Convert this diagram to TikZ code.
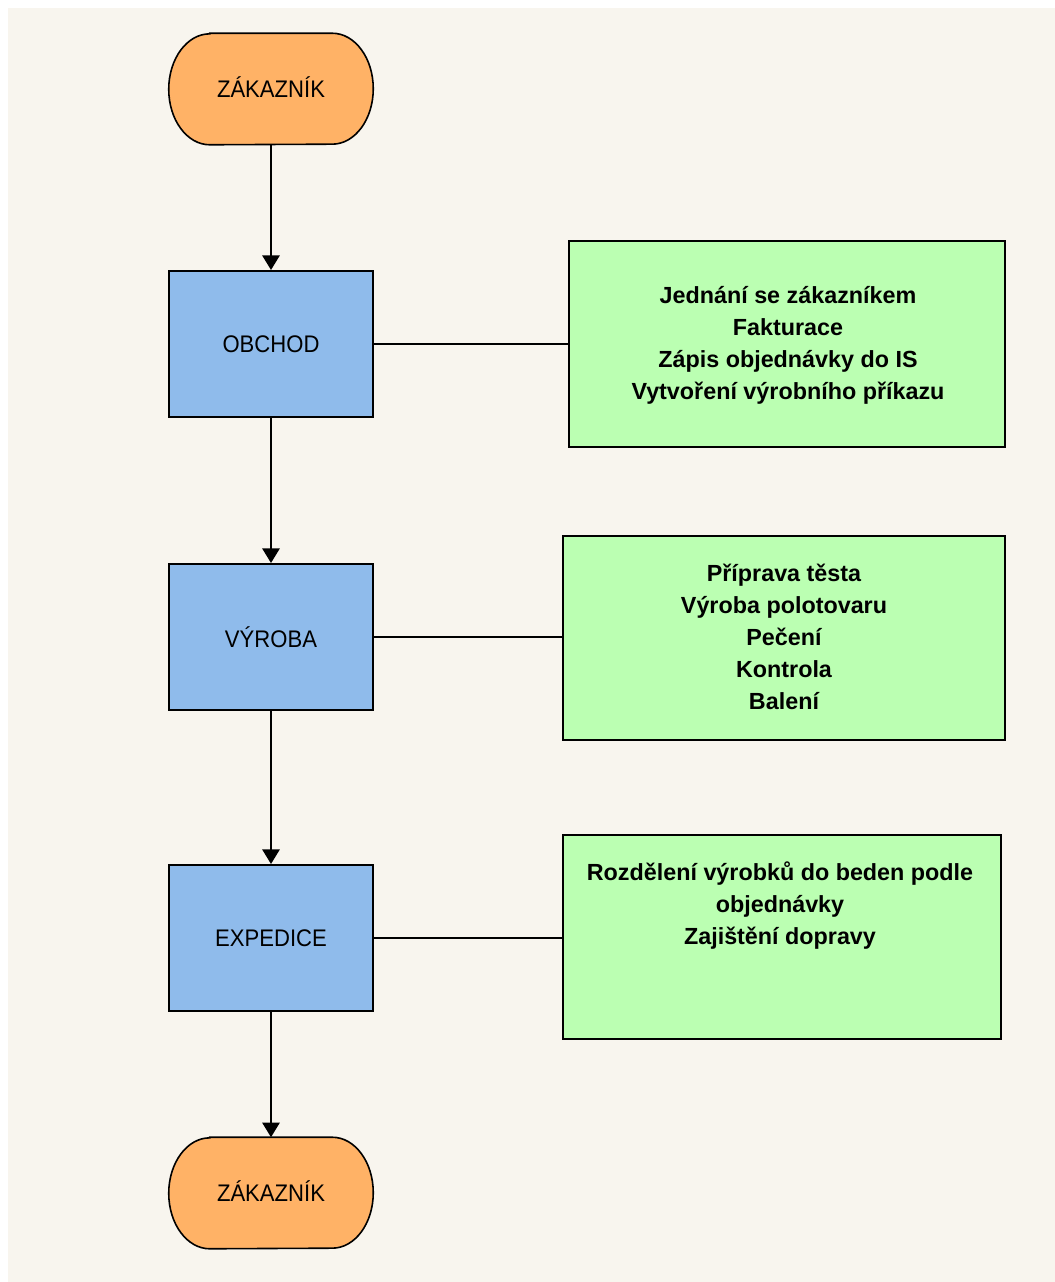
\documentclass[tikz,border=0pt]{standalone}
\usepackage{fontspec}
\setmainfont{Liberation Sans}
\newfontfamily\lblfont[FakeStretch=0.92]{Liberation Sans}
\usetikzlibrary{arrows.meta}
\definecolor{bgcream}{RGB}{248,245,238}
\definecolor{termfill}{RGB}{255,178,102}
\definecolor{procfill}{RGB}{143,187,235}
\definecolor{notefill}{RGB}{187,255,178}
\pgfdeclarelayer{back}
\pgfdeclarelayer{shapes}
\pgfsetlayers{back,shapes,main}
\tikzset{
  lbl/.style={font=\lblfont\fontsize{18pt}{21pt}\selectfont, text=black},
  termbox/.style={lbl, rectangle, minimum width=153pt, minimum height=83.25pt, inner sep=0pt, text height=13pt, text depth=0pt},
  procbox/.style={lbl, rectangle, draw=black, line width=1.5pt, fill=procfill, minimum width=153pt, minimum height=109.5pt, inner sep=0pt},
  notebox/.style={rectangle, draw=black, line width=1.2pt, fill=notefill, inner sep=0pt},
  notetext/.style={font=\bfseries\fontsize{17.5pt}{24pt}\selectfont, align=center, text=black, inner sep=0pt},
  flow/.style={line width=1.5pt, -{Triangle[width=13pt,length=11pt]}},
  link/.style={line width=1.2pt},
}
\newcommand{\stadium}[1]{%
  \filldraw[fill=termfill, draw=black, line width=1.2pt]
    ([xshift=30.75pt]#1.north west) -- ([xshift=-30.75pt]#1.north east)
    arc[start angle=90, end angle=-90, x radius=30.75pt, y radius=41.6pt]
    -- ([xshift=30.75pt]#1.south west)
    arc[start angle=270, end angle=90, x radius=30.75pt, y radius=41.6pt] -- cycle;}
\begin{document}
\begin{tikzpicture}[x=0.75pt, y=-0.75pt]
\useasboundingbox (0,0) rectangle (1055,1282);
\begin{pgfonlayer}{back}
\fill[white] (0,0) rectangle (1055,1282);
\fill[bgcream] (8,8) rectangle (1055,1282);
\end{pgfonlayer}

% terminals
\node[termbox] (start) at (271,89) {ZÁKAZNÍK};
\node[termbox] (stop) at (271,1193) {ZÁKAZNÍK};
\begin{pgfonlayer}{shapes}
\stadium{start}
\stadium{stop}
\end{pgfonlayer}

% process boxes
\node[procbox] (obchod) at (271,344) {OBCHOD};
\node[procbox] (vyroba) at (271,637) {VÝROBA};
\node[procbox] (expedice) at (271,938) {EXPEDICE};

% note boxes
\node[notebox, minimum width=327pt, minimum height=154.5pt] (n1) at (787,344) {};
\node[notebox, minimum width=331.5pt, minimum height=153pt] (n2) at (784,638) {};
\node[notebox, minimum width=328.5pt, minimum height=153pt] (n3) at (782,937) {};

\node[notetext, anchor=north] (t1) at (788,286) {Jednání se zákazníkem\\Fakturace\\Zápis objednávky do IS\\Vytvoření výrobního příkazu};
\node[notetext, anchor=north] (t2) at (784,564) {Příprava těsta\\Výroba polotovaru\\Pečení\\Kontrola\\Balení};
\node[notetext, anchor=north] (t3) at (780,861) {Rozdělení výrobků do beden podle\\objednávky\\Zajištění dopravy};

% connectors
\draw[flow] (start.south) -- (obchod.north);
\draw[flow] (obchod.south) -- (vyroba.north);
\draw[flow] (vyroba.south) -- (expedice.north);
\draw[flow] (expedice.south) -- (stop.north);

\draw[link] (obchod.east) -- (n1.west |- obchod.east);
\draw[link] (vyroba.east) -- (n2.west |- vyroba.east);
\draw[link] (expedice.east) -- (n3.west |- expedice.east);
\end{tikzpicture}
\end{document}
